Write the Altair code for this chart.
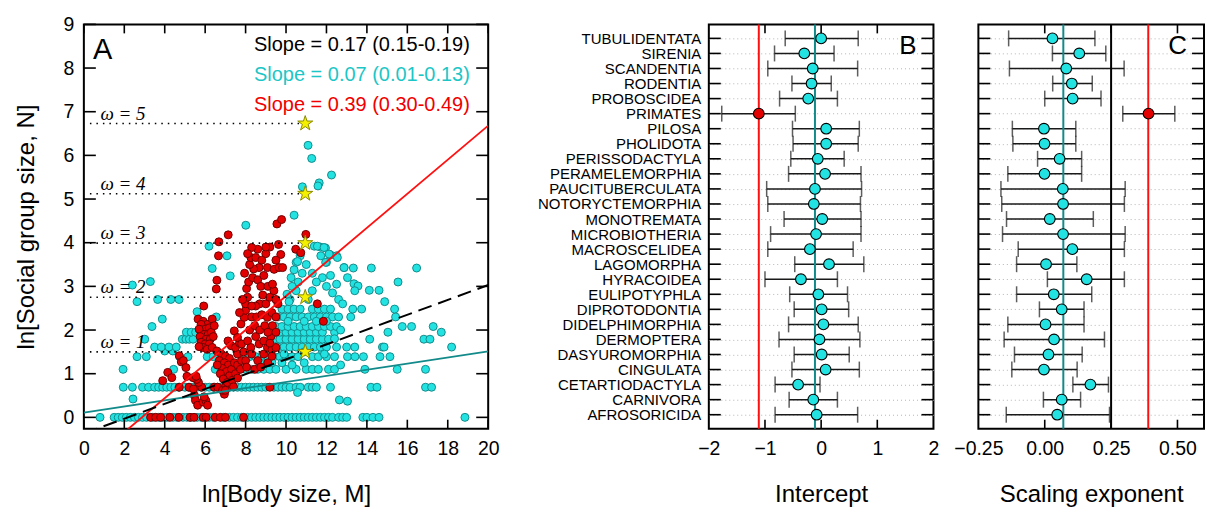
import altair as alt
import pandas as pd

FONT = "Liberation Sans"
CYAN = "#22E2E2"
CYAN_EDGE = "#168C8C"
RED = "#E30000"
RED_EDGE = "#6E0000"
TEAL = "#138A8A"
LINE_RED = "#FF1010"
STAR_PATH = ("M0,-1L0.2245,-0.309L0.951,-0.309L0.363,0.118L0.588,0.809L0,0.382L-0.588,0.809"
             "L-0.363,0.118L-0.951,-0.309L-0.2245,-0.309Z")

W_A, H = 405, 405
W_B, W_C = 225, 226
GAP_AB = 36
GAP_BC = 12

# ---------------- Panel A data ----------------
cyan_row_levels = [0.0, 0.69, 1.10, 1.39, 1.52, 1.61, 1.79, 1.95, 2.08, 2.30, 2.48]
cyan_row_x = [
    [0.8, 1.5, 1.7, 1.9, 2.1, 2.3, 2.5, 2.7, 2.9, 3.1, 3.4, 3.7, 3.9, 4.1, 4.4, 4.6, 4.9, 5.1, 5.3,
     5.6, 5.8, 6.2, 6.4, 6.9, 7.2, 7.4, 7.6, 7.8, 8.1, 8.3, 8.5, 8.7, 8.9, 9.1, 9.3, 9.5, 9.7, 9.9,
     10.1, 10.3, 10.5, 10.7, 10.9, 11.1, 11.3, 11.5, 11.7, 11.9, 12.1, 12.3, 12.6, 12.8, 13.0, 13.8,
     14.0, 14.3, 14.6, 18.85],
    [1.95, 2.4, 2.9, 3.2, 3.5, 3.7, 3.9, 4.1, 4.3, 4.5, 4.7, 5.0, 5.2, 5.4, 5.6, 5.8, 6.0, 6.2, 6.4,
     6.6, 6.8, 7.0, 7.2, 7.4, 7.6, 7.8, 8.0, 8.2, 8.4, 8.6, 8.8, 9.0, 9.4, 9.6, 9.8, 10.0, 10.2,
     10.5, 10.7, 11.1, 11.3, 11.5, 12.2, 14.2, 14.5, 16.9, 17.2],
    [1.94, 4.44, 6.5, 6.8, 7.1, 7.4, 7.7, 8.0, 8.3, 8.6, 8.9, 9.2, 9.5, 10.0, 10.5, 11.0, 11.3,
     11.6, 12.1, 12.4, 13.9, 15.5, 16.9],
    [2.63, 3.09, 4.74, 5.15, 6.1, 6.4, 7.9, 8.2, 8.5, 8.8, 9.1, 9.4, 9.7, 10.0, 10.3, 10.6, 11.3,
     11.6, 12.0, 12.4, 13.04, 13.41, 13.83, 14.65, 15.14],
    [4.0, 4.4, 11.8],
    [3.5, 3.83, 4.21, 4.57, 9.3, 9.6, 9.9, 10.2, 10.5, 10.8, 11.1, 11.4, 11.7, 12.0, 12.5, 13.0,
     13.4, 14.77, 14.85, 18.19],
    [3.01, 4.87, 5.05, 5.22, 5.4, 9.4, 9.7, 10.0, 10.3, 10.6, 10.9, 11.2, 11.5, 11.8, 12.1, 14.14,
     16.82, 17.12],
    [5.07, 5.31, 5.53, 9.7, 10.0, 10.3, 10.6, 10.9, 11.2, 11.5, 11.8, 12.4, 15.04, 17.68],
    [3.37, 9.5, 9.8, 10.1, 10.4, 10.7, 11.0, 11.3, 11.6, 11.9, 12.2, 12.5, 15.75, 16.21, 17.28],
    [6.55, 9.6, 9.9, 10.2, 10.5, 10.8, 11.1, 11.4, 11.7, 12.0, 12.3, 13.2, 15.42],
    [9.8, 10.1, 10.4, 10.7, 11.3, 11.6, 11.9, 12.2, 13.3, 13.74, 15.37],
]
cyan_points = [
    (2.43, 0.42), (12.64, 0.40), (13.04, 0.37), (10.57, 0.57),
    (3.29, 3.11), (2.40, 3.03), (2.63, 2.65), (3.65, 2.70), (4.30, 2.70), (4.71, 2.70),
    (3.88, 2.25), (5.6, 2.42), (6.19, 3.92), (7.08, 3.70), (6.35, 3.41), (7.24, 3.24),
    (8.01, 4.40), (10.40, 4.63), (11.09, 6.23), (11.27, 5.93), (12.25, 5.55), (11.64, 5.37),
    (11.58, 5.30), (10.81, 5.28), (11.4, 3.92), (11.7, 3.90), (11.95, 3.88),
    (12.87, 3.43), (13.33, 3.42), (14.22, 3.42), (16.46, 3.42), (15.54, 3.10), (13.36, 3.06),
    (13.56, 3.01), (14.12, 2.91), (14.6, 2.91), (13.4, 2.90), (14.88, 2.65),
    (12.2, 3.72), (12.5, 3.70), (12.0, 3.55), (11.8, 3.20), (12.0, 3.00), (12.3, 2.85),
    (12.5, 3.05), (12.6, 2.70), (11.3, 2.90), (11.5, 3.10), (11.1, 2.70), (12.2, 3.25),
    (12.8, 2.60), (12.6, 2.30), (12.7, 2.00), (12.4, 1.80), (11.0, 3.50), (11.3, 3.30),
    (10.2, 2.70), (10.5, 2.90), (10.6, 3.10), (10.8, 3.30), (10.5, 3.55), (10.7, 3.70),
    (10.1, 2.20), (10.9, 2.20), (11.5, 2.20), (12.0, 2.20), (9.9, 1.45), (10.9, 1.50),
    (11.9, 1.45), (12.7, 1.20), (8.7, 1.25), (9.3, 1.25), (9.8, 1.25), (10.3, 1.20), (10.9, 1.25),
    (10.57, 3.57), (10.4, 3.38), (10.25, 3.20), (10.3, 3.00), (10.05, 2.82), (10.15, 2.65),
    (11.55, 3.92), (11.88, 3.89), (12.13, 3.74), (12.54, 3.66), (12.87, 3.43), (13.04, 3.20),
    (11.72, 3.70), (11.96, 3.55),
]

red_row_levels = [0.0, 0.69]
red_row_x = [
    [3.3, 3.55, 3.8, 4.25, 4.7, 5.25, 5.45, 5.9, 6.05, 6.5, 6.75, 7.0, 7.9],
    [4.72, 5.2, 5.83, 6.45, 6.62, 6.98, 9.2],
]
red_points = [
    (5.47, 0.50), (5.52, 0.39), (5.63, 0.28), (5.9, 0.35), (6.04, 0.38), (6.12, 0.28),
    (5.95, 0.47), (6.95, 0.53), (6.86, 0.62), (5.42, 0.65), (5.67, 0.80), (5.58, 0.87),
    (3.9, 0.84), (4.15, 1.03), (4.35, 0.91), (5.1, 0.94), (5.4, 0.91), (5.55, 0.94),
    (4.72, 1.41), (4.82, 1.27), (4.92, 1.30), (5.05, 1.14),
    (5.93, 2.55), (5.65, 2.25), (5.9, 2.20), (6.1, 2.13), (5.8, 2.13), (6.0, 2.02), (6.2, 2.05),
    (5.7, 2.02), (5.95, 1.90), (6.15, 1.90), (6.3, 1.95), (5.75, 1.85), (6.05, 1.79),
    (6.25, 1.79), (5.8, 1.72), (6.0, 1.68), (6.2, 1.68), (5.9, 1.60), (6.1, 1.56), (6.35, 1.60),
    (5.7, 1.62), (6.4, 1.85), (6.35, 2.25), (6.45, 2.10),
    (6.58, 1.52), (6.8, 1.45), (7.0, 1.40), (7.2, 1.35), (6.7, 1.30), (6.95, 1.25), (7.15, 1.20),
    (6.85, 1.12), (7.05, 1.05), (7.3, 1.10), (6.75, 1.00), (7.2, 0.95), (6.9, 0.88), (7.1, 0.80),
    (7.35, 0.85), (7.5, 1.00), (7.45, 1.25), (7.6, 1.45), (7.13, 1.75), (7.29, 1.64), (7.5, 1.60),
    (7.7, 1.70), (6.6, 1.20), (7.0, 0.62), (7.4, 0.70), (7.6, 1.20), (7.8, 1.30), (7.9, 1.50),
    (7.6, 0.90),
    (7.44, 1.98), (7.6, 1.83), (7.77, 2.14), (7.93, 2.29), (7.8, 1.68), (8.1, 1.75), (8.26, 1.60),
    (8.5, 1.85), (8.67, 1.68), (8.9, 1.75), (9.08, 1.60), (9.25, 1.85), (9.3, 1.55), (8.2, 2.00),
    (8.45, 2.10), (8.7, 2.00), (8.95, 2.10), (9.1, 1.95), (9.33, 2.10), (9.5, 1.95), (8.0, 2.45),
    (8.3, 2.30), (8.55, 2.30), (8.8, 2.35), (9.08, 2.29), (9.3, 2.40), (9.5, 2.30), (9.6, 2.60),
    (8.0, 2.60), (8.1, 2.75), (8.05, 2.95), (8.15, 3.10), (8.35, 3.20), (8.6, 3.15), (8.75, 3.00),
    (8.85, 2.80), (8.7, 2.60), (8.5, 2.55), (8.3, 2.55), (9.0, 2.60), (9.2, 2.75), (9.1, 3.00),
    (9.4, 2.90), (9.33, 3.05), (8.9, 3.25), (9.08, 3.43), (8.67, 3.43), (8.4, 3.40), (8.2, 3.50),
    (8.26, 3.66), (8.5, 3.66), (8.8, 3.60), (9.0, 3.75), (8.6, 3.85), (8.3, 3.89), (9.2, 3.90),
    (9.41, 3.39), (9.63, 3.96), (9.74, 3.73), (9.66, 3.43), (9.83, 3.43), (9.55, 4.43),
    (9.78, 4.53), (9.0, 3.90),
    (7.14, 4.18), (6.68, 4.02), (6.66, 3.70), (6.58, 3.14), (6.55, 2.94), (10.98, 4.19),
    (10.48, 3.85), (10.73, 3.77), (11.55, 2.60), (11.85, 2.20),
    (8.0, 1.30), (8.3, 1.45), (8.6, 1.30), (8.9, 1.45), (9.1, 1.25), (9.3, 1.40), (8.45, 1.10),
    (7.75, 1.10), (9.5, 1.60), (9.2, 1.70), (8.05, 1.15), (8.75, 1.15),
    (7.7, 2.40), (7.85, 2.70), (7.95, 3.30), (8.1, 3.75), (9.5, 3.60), (9.5, 2.70),
]

omega_levels = [1, 2, 3, 4, 5]
omega_y = [1.50, 2.75, 3.99, 5.12, 6.73]
omega_line_start = 0.3
star_x = 10.95
omega_label_x = 0.82

fit_slope = [0.17, 0.07, 0.39]
fit_intercept = [-0.37, 0.11, -1.12]
slope_labels = ["Slope = 0.17 (0.15-0.19)", "Slope = 0.07 (0.01-0.13)", "Slope = 0.39 (0.30-0.49)"]
slope_label_y = [8.52, 7.83, 7.15]
slope_colors = ["#000000", "#1CC6C6", "#F00000"]

# ---------------- Panels B and C data ----------------
cats = ["TUBULIDENTATA", "SIRENIA", "SCANDENTIA", "RODENTIA", "PROBOSCIDEA", "PRIMATES",
        "PILOSA", "PHOLIDOTA", "PERISSODACTYLA", "PERAMELEMORPHIA", "PAUCITUBERCULATA",
        "NOTORYCTEMORPHIA", "MONOTREMATA", "MICROBIOTHERIA", "MACROSCELIDEA", "LAGOMORPHA",
        "HYRACOIDEA", "EULIPOTYPHLA", "DIPROTODONTIA", "DIDELPHIMORPHIA", "DERMOPTERA",
        "DASYUROMORPHIA", "CINGULATA", "CETARTIODACTYLA", "CARNIVORA", "AFROSORICIDA"]
int_est = [0.00, -0.30, -0.15, -0.17, -0.23, -1.11, 0.09, 0.09, -0.06, 0.07, -0.11, -0.13, 0.02,
           -0.09, -0.20, 0.14, -0.36, -0.05, 0.01, 0.04, -0.03, 0.01, 0.08, -0.41, -0.14, -0.08]
int_lo = [-0.64, -0.83, -0.95, -0.52, -0.74, -1.77, -0.51, -0.50, -0.54, -0.58, -0.97, -0.95, -0.66,
          -0.90, -0.95, -0.47, -1.00, -0.56, -0.48, -0.58, -0.75, -0.48, -0.52, -0.82, -0.57, -0.82]
int_hi = [0.66, 0.23, 0.65, 0.18, 0.29, -0.46, 0.68, 0.66, 0.41, 0.71, 0.72, 0.70, 0.71,
          0.71, 0.57, 0.76, 0.29, 0.47, 0.49, 0.66, 0.69, 0.50, 0.68, -0.02, 0.29, 0.65]
exp_est = [0.029, 0.130, 0.081, 0.102, 0.105, 0.391, -0.003, -0.001, 0.056, -0.001, 0.068, 0.069,
           0.019, 0.069, 0.104, 0.005, 0.158, 0.034, 0.064, 0.003, 0.035, 0.014, -0.003, 0.172,
           0.064, 0.047]
exp_lo = [-0.136, 0.029, -0.133, 0.030, 0.000, 0.294, -0.122, -0.120, -0.027, -0.139, -0.165,
          -0.162, -0.144, -0.159, -0.100, -0.106, 0.010, -0.106, -0.020, -0.139, -0.153, -0.114,
          -0.124, 0.106, -0.005, -0.145]
exp_hi = [0.189, 0.230, 0.299, 0.179, 0.212, 0.490, 0.117, 0.117, 0.139, 0.139, 0.303, 0.300,
          0.183, 0.303, 0.300, 0.121, 0.300, 0.177, 0.148, 0.148, 0.225, 0.141, 0.122, 0.240,
          0.135, 0.244]
highlight = "PRIMATES"
int_ref_values = [-1.11, -0.11]
int_ref_colors = [LINE_RED, TEAL]
exp_ref_values = [0.07, 0.25, 0.39]
exp_ref_colors = [TEAL, "#000000", LINE_RED]

# ---------------- helpers ----------------
AX = dict(ticks=False, domain=False, labelFont=FONT, titleFont=FONT, labelFontSize=19.5,
          titleFontSize=24, labelColor="black", titleColor="black", titleFontWeight="normal",
          labelFlush=False)
TICK_W = 1.6


def yticks(values, scale, width, length, axis, typ="Q"):
    d = pd.DataFrame({"t": values})
    enc_y = alt.Y(f"t:{typ}", scale=scale, axis=axis)
    left = alt.Chart(d).mark_rule(color="black", strokeWidth=TICK_W).encode(
        y=enc_y, x=alt.value(0), x2=alt.value(length))
    right = alt.Chart(d).mark_rule(color="black", strokeWidth=TICK_W).encode(
        y=enc_y, x=alt.value(width - length), x2=alt.value(width))
    return [left, right]


def xticks(values, scale, height, length, axis):
    d = pd.DataFrame({"t": values})
    enc_x = alt.X("t:Q", scale=scale, axis=axis)
    bottom = alt.Chart(d).mark_rule(color="black", strokeWidth=TICK_W).encode(
        x=enc_x, y=alt.value(height - length), y2=alt.value(height))
    top = alt.Chart(d).mark_rule(color="black", strokeWidth=TICK_W).encode(
        x=enc_x, y=alt.value(0), y2=alt.value(length))
    return [bottom, top]


# ---------------- Panel A ----------------
cx, cy = [], []
for lvl, xs in zip(cyan_row_levels, cyan_row_x):
    cx += xs
    cy += [lvl] * len(xs)
for a, b in cyan_points:
    cx.append(a)
    cy.append(b)
df_cyan = pd.DataFrame({"x": cx, "y": cy})

rx, ry = [], []
for lvl, xs in zip(red_row_levels, red_row_x):
    rx += xs
    ry += [lvl] * len(xs)
for a, b in red_points:
    rx.append(a)
    ry.append(b)
df_red = pd.DataFrame({"x": rx, "y": ry})

xA = alt.Scale(domain=[0, 20], nice=False, zero=False)
yA = alt.Scale(domain=[-0.26, 9], nice=False, zero=False)
AXX = alt.Axis(values=list(range(0, 21, 2)), title="ln[Body size, M]", labelPadding=11,
               titlePadding=24, grid=False, **AX)
AXY = alt.Axis(values=list(range(0, 10)), title="ln[Social group size, N]", labelPadding=10,
               titlePadding=25, grid=False, **AX)

cyan_layer = alt.Chart(df_cyan).mark_circle(
    size=64, fill=CYAN, stroke=CYAN_EDGE, strokeWidth=1, opacity=1).encode(
    x=alt.X("x:Q", scale=xA, axis=AXX), y=alt.Y("y:Q", scale=yA, axis=AXY))
red_layer = alt.Chart(df_red).mark_circle(
    size=64, fill=RED, stroke=RED_EDGE, strokeWidth=1, opacity=1).encode(
    x=alt.X("x:Q", scale=xA, axis=AXX), y=alt.Y("y:Q", scale=yA, axis=AXY))


def fit_layer(i, color, dash=None, width=1.8):
    d = pd.DataFrame({"x": [0, 20],
                      "y": [fit_intercept[i], fit_intercept[i] + 20 * fit_slope[i]]})
    kw = dict(color=color, strokeWidth=width, clip=True)
    if dash:
        kw["strokeDash"] = dash
    return alt.Chart(d).mark_line(**kw).encode(
        x=alt.X("x:Q", scale=xA, axis=AXX), y=alt.Y("y:Q", scale=yA, axis=AXY))


df_omega = pd.DataFrame({"x0": [omega_line_start] * 5, "x1": [star_x] * 5, "y": omega_y,
                         "lx": [omega_label_x] * 5,
                         "lab": [f"\u03c9 = {k}" for k in omega_levels]})
omega_lines = alt.Chart(df_omega).mark_rule(color="black", strokeWidth=1.6,
                                            strokeDash=[1.5, 5]).encode(
    x=alt.X("x0:Q", scale=xA, axis=AXX), x2="x1:Q", y=alt.Y("y:Q", scale=yA, axis=AXY))
omega_text = alt.Chart(df_omega).mark_text(
    font="Liberation Serif", fontStyle="italic", fontSize=19, align="left",
    baseline="alphabetic", dy=-4, color="black").encode(
    x=alt.X("lx:Q", scale=xA, axis=AXX), y=alt.Y("y:Q", scale=yA, axis=AXY), text="lab:N")
stars = alt.Chart(df_omega).mark_point(
    shape=STAR_PATH, filled=True, fill="#F4F000", stroke="#8A8A00", strokeWidth=1, size=250,
    opacity=1).encode(x=alt.X("x1:Q", scale=xA, axis=AXX), y=alt.Y("y:Q", scale=yA, axis=AXY))

df_slope = pd.DataFrame({"lab": slope_labels, "y": slope_label_y, "x": [19.09] * 3,
                         "c": slope_colors})
slope_text = alt.Chart(df_slope).mark_text(align="right", baseline="middle", fontSize=20,
                                           font=FONT).encode(
    x=alt.X("x:Q", scale=xA, axis=AXX), y=alt.Y("y:Q", scale=yA, axis=AXY), text="lab:N",
    color=alt.Color("c:N", scale=None, legend=None))
label_A = alt.Chart(pd.DataFrame({"t": ["A"], "x": [0.45], "y": [8.42]})).mark_text(
    align="left", baseline="middle", fontSize=29, font=FONT, color="black").encode(
    x=alt.X("x:Q", scale=xA, axis=AXX), y=alt.Y("y:Q", scale=yA, axis=AXY), text="t:N")

panelA = alt.layer(
    cyan_layer, red_layer,
    fit_layer(1, TEAL, width=1.8), fit_layer(2, LINE_RED, width=1.8),
    fit_layer(0, "black", dash=[14, 7], width=2),
    omega_lines, omega_text, stars, slope_text, label_A,
    *yticks(list(range(0, 10)), yA, W_A, 12, AXY),
    *xticks(list(range(0, 21, 2)), xA, H, 9, AXX),
).properties(width=W_A, height=H)

# ---------------- Panels B and C ----------------
yCat = alt.Scale(domain=cats, type="point", padding=0.93)


def forest(est, lo, hi, xscale, xvalues, fmt, title, refs, ref_colors, show_labels, letter,
           width, inner_ticks):
    d = pd.DataFrame({"cat": cats, "est": est, "lo": lo, "hi": hi,
                      "grp": ["hl" if c == highlight else "no" for c in cats]})
    yax = alt.Axis(title=None, labels=show_labels, ticks=False, domain=False, grid=True,
                   gridDash=[1, 3], gridColor="#b5b5b5", gridWidth=1, labelFont=FONT,
                   labelFontSize=15, labelPadding=8, labelColor="black", labelLimit=400)
    xax = alt.Axis(values=xvalues, title=title, labelPadding=11, titlePadding=24, grid=False,
                   format=fmt, **AX)
    dref = pd.DataFrame({"v": refs, "c": ref_colors})
    ref = alt.Chart(dref).mark_rule(strokeWidth=2).encode(
        x=alt.X("v:Q", scale=xscale, axis=xax), color=alt.Color("c:N", scale=None, legend=None))
    bars = alt.Chart(d).mark_rule(color="#1a1a1a", strokeWidth=1.5).encode(
        x=alt.X("lo:Q", scale=xscale, axis=xax), x2="hi:Q",
        y=alt.Y("cat:N", scale=yCat, axis=yax))
    cap_lo = alt.Chart(d).mark_tick(color="#1a1a1a", size=16, thickness=1.5).encode(
        x=alt.X("lo:Q", scale=xscale, axis=xax), y=alt.Y("cat:N", scale=yCat, axis=yax))
    cap_hi = alt.Chart(d).mark_tick(color="#1a1a1a", size=16, thickness=1.5).encode(
        x=alt.X("hi:Q", scale=xscale, axis=xax), y=alt.Y("cat:N", scale=yCat, axis=yax))
    pts = alt.Chart(d).mark_circle(size=115, stroke="black", strokeWidth=1.1, opacity=1).encode(
        x=alt.X("est:Q", scale=xscale, axis=xax), y=alt.Y("cat:N", scale=yCat, axis=yax),
        fill=alt.Fill("grp:N", scale=alt.Scale(domain=["no", "hl"], range=[CYAN, RED]),
                      legend=None))
    lab = alt.Chart(pd.DataFrame({"t": [letter]})).mark_text(
        align="right", baseline="middle", fontSize=26, font=FONT, color="black").encode(
        x=alt.value(width - 17), y=alt.value(22), text="t:N")
    return alt.layer(
        bars, ref, cap_lo, cap_hi, pts, lab,
        *yticks(cats, yCat, width, 12, yax, typ="N"),
        *xticks(inner_ticks, xscale, H, 9, xax),
    ).properties(width=width, height=H)


xB = alt.Scale(domain=[-2, 2], nice=False, zero=False)
xC = alt.Scale(domain=[-0.25, 0.6], nice=False, zero=False)

panelB = forest(int_est, int_lo, int_hi, xB, [-2, -1, 0, 1, 2], "d", "Intercept",
                int_ref_values, int_ref_colors, True, "B", W_B, [-1, 0, 1])
panelC = forest(exp_est, exp_lo, exp_hi, xC, [-0.25, 0, 0.25, 0.5], ".2f", "Scaling exponent",
                exp_ref_values, exp_ref_colors, False, "C", W_C, [0, 0.25, 0.5])

right_part = alt.hconcat(panelB, panelC, spacing=GAP_BC)
chart = alt.hconcat(panelA, right_part, spacing=GAP_AB).properties(
    padding={"left": 13, "top": 13, "right": 3, "bottom": 4}
).configure(font=FONT).configure_view(stroke="black", strokeWidth=2)

chart.save("out.html", embed_options={"renderer": "svg", "actions": False})
